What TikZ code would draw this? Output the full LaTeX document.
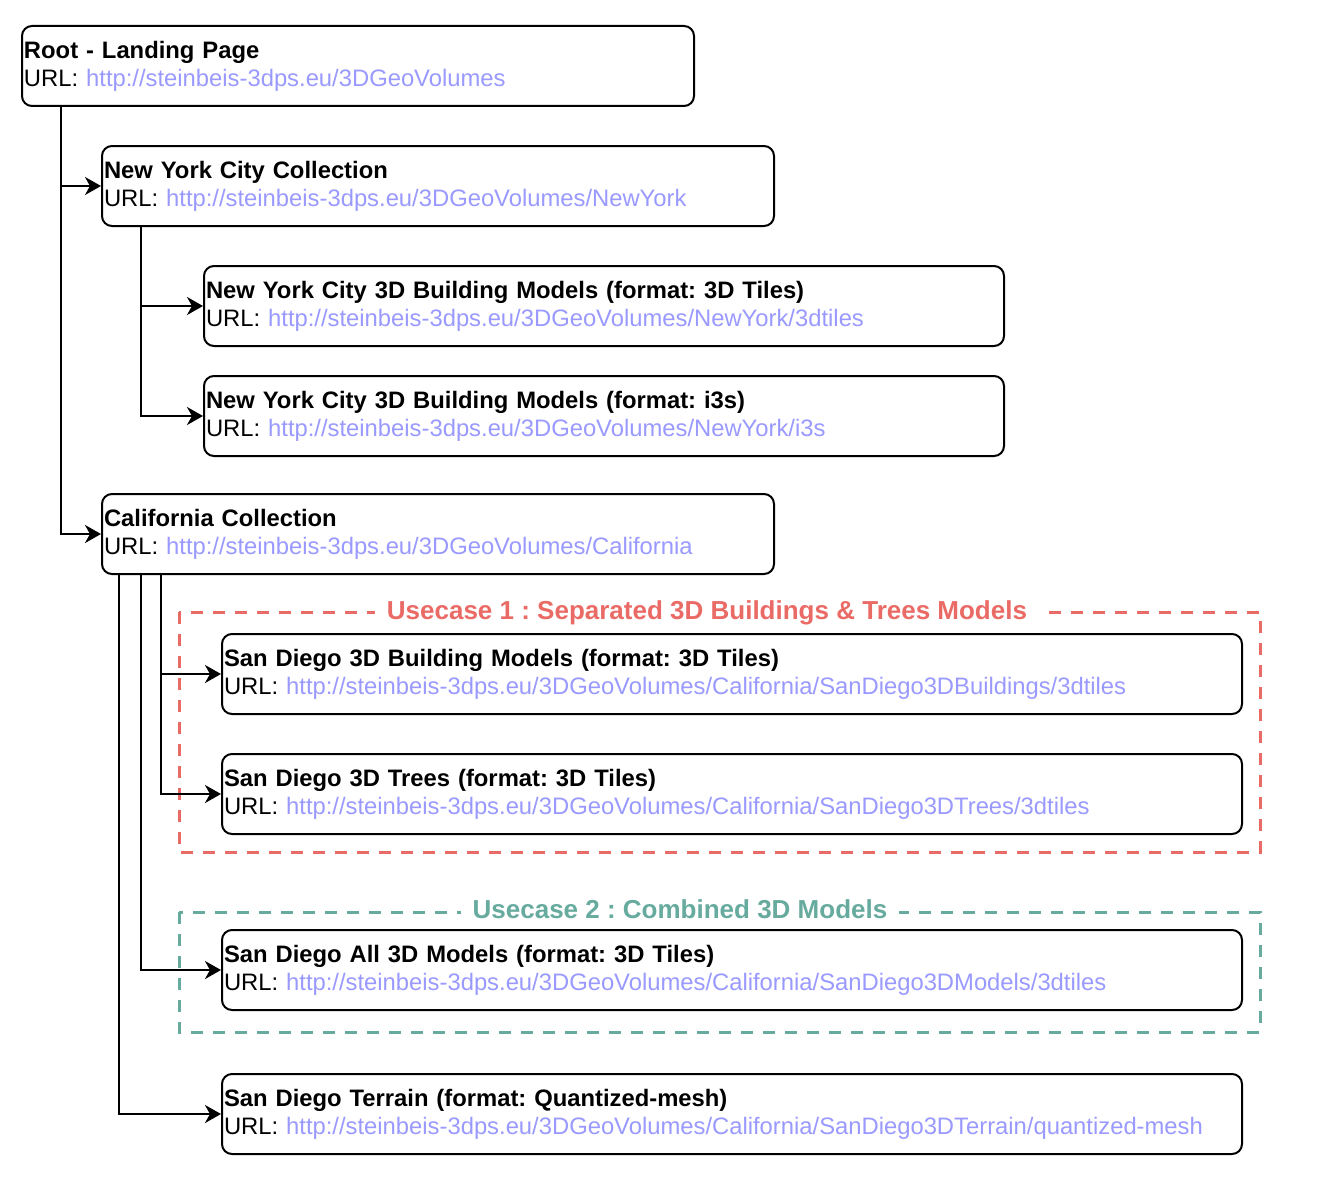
\documentclass[tikz,border=0pt]{standalone}
\usepackage{fontspec}
\setmainfont{Liberation Sans}
\usetikzlibrary{arrows.meta}
\frenchspacing

\definecolor{urlblue}{HTML}{9999FF}
\definecolor{caseone}{HTML}{EA6B66}
\definecolor{casetwo}{HTML}{67AB9F}

\tikzset{
  page/.style={draw, line width=1pt, rounded corners=5pt, anchor=north west,
    align=left, inner xsep=1pt, inner ysep=2pt, minimum height=40pt,
    font=\fontsize{11.9}{14}\selectfont},
  link/.style={line width=1pt, -{Stealth[length=8pt,width=9pt,inset=2.5pt]}},
  usecase/.style={dash pattern=on 6pt off 5pt, line width=1.5pt},
  casetitle/.style={fill=white, inner xsep=6pt, inner ysep=1pt,
    font=\fontsize{13}{15}\selectfont\bfseries},
}
\newcommand{\pagetext}[2]{\textbf{#1}\\URL: \textcolor{urlblue}{#2}}

\begin{document}
\begin{tikzpicture}[x=0.5pt,y=-0.5pt]
  \useasboundingbox (0,0) rectangle (1327,1193);

  % Use case groups
  \draw[usecase, caseone] (179,612) rectangle (1260,852);
  \draw[usecase, casetwo] (179,912) rectangle (1260,1032);
  \node[casetitle, text=caseone] (ucone) at (707,613)
    {Usecase 1 : Separated 3D Buildings \& Trees Models};
  \node[casetitle, text=casetwo] (uctwo) at (680,909)
    {Usecase 2 : Combined 3D Models};

  % Pages
  \node[page, text width=334pt] (root) at (21,25)
    {\pagetext{Root - Landing Page}{http://steinbeis-3dps.eu/3DGeoVolumes}};
  \node[page, text width=334pt] (nyc) at (101,145)
    {\pagetext{New York City Collection}{http://steinbeis-3dps.eu/3DGeoVolumes/NewYork}};
  \node[page, text width=398pt] (nyctiles) at (203,265)
    {\pagetext{New York City 3D Building Models (format: 3D Tiles)}{http://steinbeis-3dps.eu/3DGeoVolumes/NewYork/3dtiles}};
  \node[page, text width=398pt] (nyci3s) at (203,375)
    {\pagetext{New York City 3D Building Models (format: i3s)}{http://steinbeis-3dps.eu/3DGeoVolumes/NewYork/i3s}};
  \node[page, text width=334pt] (cal) at (101,493)
    {\pagetext{California Collection}{http://steinbeis-3dps.eu/3DGeoVolumes/California}};
  \node[page, text width=508pt] (sdbuild) at (221,633)
    {\pagetext{San Diego 3D Building Models (format: 3D Tiles)}{http://steinbeis-3dps.eu/3DGeoVolumes/California/SanDiego3DBuildings/3dtiles}};
  \node[page, text width=508pt] (sdtrees) at (221,753)
    {\pagetext{San Diego 3D Trees (format: 3D Tiles)}{http://steinbeis-3dps.eu/3DGeoVolumes/California/SanDiego3DTrees/3dtiles}};
  \node[page, text width=508pt] (sdall) at (221,929)
    {\pagetext{San Diego All 3D Models (format: 3D Tiles)}{http://steinbeis-3dps.eu/3DGeoVolumes/California/SanDiego3DModels/3dtiles}};
  \node[page, text width=508pt] (sdterrain) at (221,1073)
    {\pagetext{San Diego Terrain (format: Quantized-mesh)}{http://steinbeis-3dps.eu/3DGeoVolumes/California/SanDiego3DTerrain/quantized-mesh}};

  % Links
  \foreach \child in {nyc,cal}
    \draw[link] ([xshift=20pt]root.south west) |- (\child.west);
  \foreach \child in {nyctiles,nyci3s}
    \draw[link] ([xshift=20pt]nyc.south west) |- (\child.west);
  \foreach \child in {sdbuild,sdtrees}
    \draw[link] ([xshift=30pt]cal.south west) |- (\child.west);
  \draw[link] ([xshift=20pt]cal.south west) |- (sdall.west);
  \draw[link] ([xshift=9pt]cal.south west) |- (sdterrain.west);
\end{tikzpicture}
\end{document}
